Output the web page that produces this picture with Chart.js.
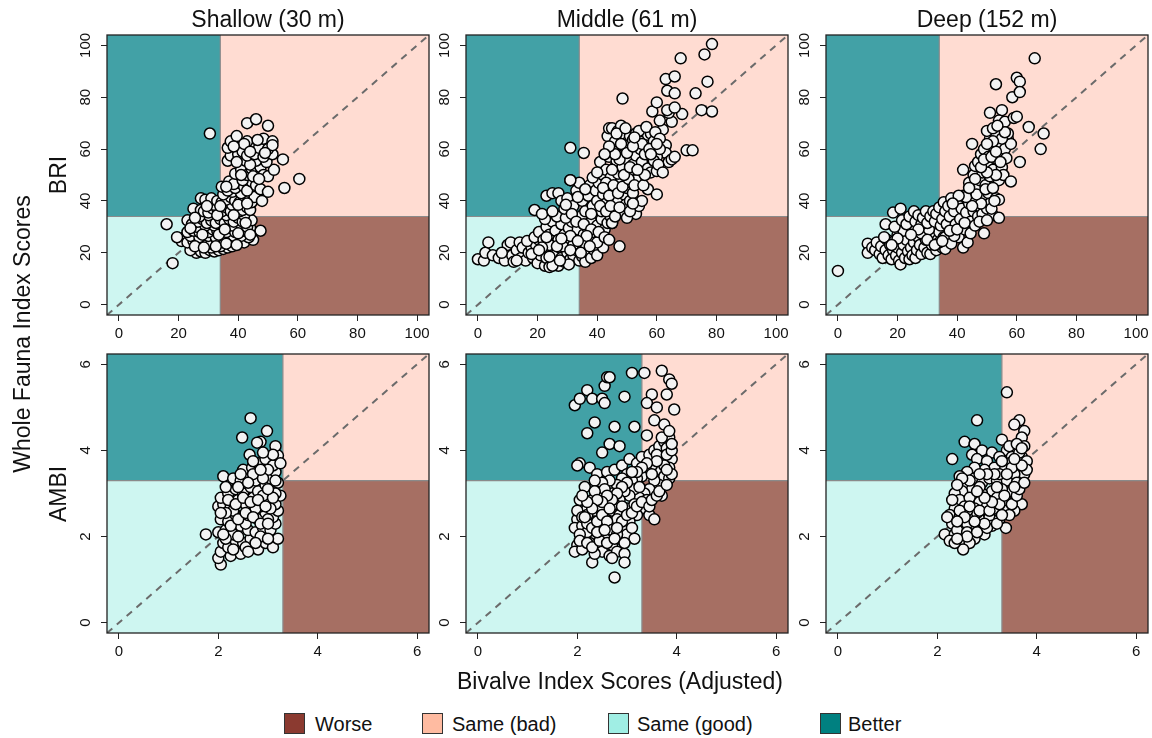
<!DOCTYPE html>
<html>
<head>
<meta charset="utf-8">
<script src="https://cdn.jsdelivr.net/npm/chart.js@4/dist/chart.umd.min.js"></script>
<style>
  body { margin:0; background:#fff; width:1152px; height:738px; position:relative; overflow:hidden;
         font-family:"Liberation Sans", Arial, sans-serif; color:#111; }
  .panel { position:absolute; }
  .txt { position:absolute; white-space:nowrap; transform:translate(-50%,-50%); line-height:1; }
  .rot { transform:translate(-50%,-50%) rotate(-90deg); }
  .lg-box { position:absolute; width:21px; height:21px; border:1px solid #333; box-sizing:border-box; }
  .lg-txt { position:absolute; white-space:nowrap; font-size:20px; line-height:1; transform:translateY(-50%); }
</style>
</head>
<body>
<script>
// ---- category / axis text ----
const depthTitles = ['Shallow (30 m)', 'Middle (61 m)', 'Deep (152 m)'];
const indexNames = ['BRI', 'AMBI'];
const legendLabels = ['Worse', 'Same (bad)', 'Same (good)', 'Better'];
const briTicks = [0, 20, 40, 60, 80, 100];
const ambiTicks = [0, 2, 4, 6];
const briRange = [-4, 104];
const ambiRange = [-0.24, 6.24];
const briCut = 34;
const ambiCut = 3.3;

// ---- bivalve index (x) vs whole fauna index (y) ----
const shallowBRI = [
  [26,20],[27.5,20.5],[29,20],[30.5,21],[32,20.5],[33.5,21],[35,21.5],[36.5,22],[38,22.5],[24,21],[31,22],[34,22.5],
  [22,26],[21,24.5],[19.5,26],[23,24],[25,24.5],[26.5,23.5],[28,24],[29.5,25],[31,23.5],[33,24.5],[35,24],[37,25],
  [39,24],[40.5,25],[42,24],[45,25],[43.5,26],[24,26.5],[27,26],[30,26.5],[32.5,26],[36,26.5],[38.5,26.5],[41,26.5],
  [23,28],[25,28.5],[27,28],[28.5,29.5],[30,28],[31.5,29],[33,28.5],[34.5,30],[36,28],[37.5,29.5],[39,28],[40.5,29.5],
  [42,28.5],[44,29.5],[47.5,28.5],[26,30],[29,30.5],[32,30.5],[38,30.5],[41,31],[43,30],
  [16,31],[23,32.5],[24.5,31],[26.5,32],[28,33],[29.5,31.5],[31,32.5],[32.5,31.5],[34,33],[35.5,31.5],[37,33],
  [38.5,32],[40,33.5],[41.5,32],[43,33],[44.5,32.5],[30,34.5],[27,34],[36,34.5],[42,34.5],
  [25,37],[27.5,36.5],[28.5,36],[30,35.5],[31.5,37],[33,37],[34.5,36],[36,37.5],[37.5,36],[39,37.5],[40.5,36],
  [41.5,36.5],[43,37.5],[44,36.5],[32,38.5],[38,38.5],
  [27.5,41],[29,40.5],[31,41],[33,40],[34.5,39.5],[36,40.5],[37.5,41.5],[39,40],[40.5,39.5],[42,41],[43.5,40],
  [44.5,39.5],[45.5,41.5],[48,40],[35,42.5],[38,43.5],[41,43],
  [34.5,45.5],[36.5,44],[37,47.5],[39,45],[40,47],[42,45.5],[43,44],[44.5,47.5],[46,46],[47.5,44.5],[50,43.5],
  [38.5,46.5],[41.5,48],
  [39,50.5],[41,52],[43,50],[44.5,52.5],[46,51],[47.5,53],[48.5,50],[50,49.5],[52,52],[42.5,55.5],[46,55.5],
  [49.5,55],[36.5,55.5],[44,54],
  [37.5,57.5],[40,58],[41.5,59],[43,57.5],[44.5,61],[45.5,58],[47,60.5],[48.5,57],[51.5,58],[50,60],[36.5,60.5],
  [55,56],[55.5,45],[60.5,48.5],
  [30.5,66],[37.5,63],[39.5,65],[43,63],[48.5,64],[51.5,63],[51.5,61.5],[43,70],[46,71.5],[50,69],[42,62],
  [18,16],
  [25.5,22.5],[28.5,22],[32.5,22.5],[36,23.5],[39.5,23],[33.5,27],[28,27],[40,27.5],[44,27],[24,29.5],[35.5,29],
  [42.5,31.5],[25.5,33.5],[33,34.5],[38.5,34.5],[29.5,38],[34,38],[40,38.5],[43,39],[36,45.5],[41,50],[45,49.5],
  [47,48.5],[39.5,55],[44,59],[49,58.5],[46.5,63.5],[38.5,61]
];

const middleBRI = [
  [0,17.5],[2,17],[2.5,20],[3.5,24],[5,19],[7,18],[9,17],[10,23],[11,24],[11.5,19],[12,16.5],[13,21],[14,24],
  [14.5,18],[15,22],[16,17],[17,20],[18,22],[18.5,18],[19.5,23],[20,16],[21,19],[22,22],[22.5,15],[23,18],
  [24,14.5],[24.5,21],[25.5,16],[26,19],[27,15],[27.5,22],[28,18],[29,16.5],[30,20],[31,17.5],[32,19],[33,21],
  [34,17],[35,18.5],[36,16.5],[37,20],[38,18],[39,21],[40,19],[42,22],[47.5,22.5],[20.5,25],[16.5,24.5],[13,17],
  [8,20],[25,15],[30.5,15.5],
  [19,26],[20.5,28],[22,25],[23,30],[24,27],[25,32],[26,28.5],[27,25],[28,31],[29,27],[30,24],[30.5,29.5],
  [31.5,32],[32.5,26],[33.5,29],[34.5,33],[35.5,27],[36.5,30],[37.5,25],[38,32],[39,28],[40,30.5],[41,26],
  [41.5,33],[42.5,29],[43.5,31.5],[44.5,34],[45,31.5],[22.5,33],[26.5,34],[24,23],[28.5,22.5],[32,23],[36,23.5],
  [40,24],[21.5,22],[29.5,33.5],[35,34.5],[19,36.5],[21.5,35],[25,36],[23,42],
  [25,43],[27,43],[28,40],[29,37],[30,41],[31,48],[32,38],[33,44],[34,47],[35,40],[36,36],[37,42],[37.5,46],
  [38.5,38],[39.5,44],[40,40],[40.5,47],[41.5,36],[42,42.5],[43,39],[43.5,45],[44,48],[45,41],[46,37],[46.5,44],
  [47,40],[47.5,47.5],[48.5,36],[49,42.5],[49.5,38.5],[50,45],[51,40],[52,43],[53,35],[50,33.5],[45,31.5],
  [54,38],[55,40],[51.5,47],[48,49],[38,35],[31.5,35],
  [41,55],[42,50],[43,52],[44,57],[44.5,49],[45,60],[46,53],[46.5,55.5],[47,50.5],[48,58],[48.5,53],[49,61],
  [50,56],[50.5,51],[51,59],[52,54],[52.5,62],[53,57.5],[54,51],[54.5,60],[55,55],[56,58],[57,52.5],[58,51],
  [60,51.5],[57,44.5],[60,42.5],[31,60.5],[35.5,58.5],[31,48],[43,47],[53,48],
  [43.5,65],[44,68],[45,68],[46,63],[47,67],[48,69],[48.5,64],[49,66],[50,62.5],[51,65],[52,63.5],[53,66],
  [54,64],[55,67],[56,62],[57,65.5],[58,66],[59,63],[62,67.5],[63,61.5],[63,58.5],[64,55],[65,56],[66,57],
  [70,59.5],[72,59.5],[60,57],[61,60],
  [65,70.5],[64,74],[58.5,74.5],[60,78],[63.5,75],[68.5,73.5],[75,75],[78.5,74.5],[63.5,82.5],[66,81.5],
  [73,81.5],[63,87],[66,88],[77,86],[68,95],[76,96.5],[78.5,100.5],[48.5,79.5],[61,71],[66,76],
  [42,45],[44,42],[45.5,46],[47,43],[48.5,45.5],[50.5,48.5],[52.5,46],[55.5,46],[56,50],[41,38],[43,36],[44.5,38],
  [46,34],[47.5,37.5],[51,36],[52,39],[49,50],[45,52],[47.5,56],[51,53],[53.5,52],[55,62],[57.5,60],[59,55.5],
  [50,58.5],[46,58],[44,61],[48,62],[52,61],[54,67],[56.5,68.5],[59.5,66.5],[61,64],[58,58],[60.5,54],[62,51],
  [33,32],[35.5,31],[38,29],[40.5,28],[42.5,26],[44,25],[36.5,26.5],[31,26.5],[26.5,22.5],[23,26],[28,25.5],
  [33.5,24.5],[18,19.5],[20.5,21],[24,18.5],[27.5,17],[31,21],[34.5,20],[37.5,22.5],[29.5,38.5],[33.5,41.5],
  [36,44.5],[38.5,49],[40,51],[42.5,58],[46.5,66],[49.5,68],[52.5,64.5],[60,62]
];

const deepBRI = [
  [0,13],
  [10,23.5],[10,20],[11.5,22],[12.5,21],[13,24],[14,19.5],[14.5,22.5],[15,18],[16,21],[16.5,25],[17,19],
  [17.5,23],[18,17.5],[18.5,21],[19,24.5],[19.5,19],[20,22],[20.5,17],[21,15.5],[21.5,20],[22,23],[22.5,18],
  [23,25],[23.5,20.5],[24,17.5],[24.5,22],[25,19],[25.5,24],[26,18],[26.5,21],[27,26],[27.5,23],[28,19.5],
  [29,22],[29.5,25],[30,20],[31,19.5],[31.5,23],[32,27],[33,21],[33.5,25],[34,28],[35,22],[35.5,26],[36,21.5],
  [15.5,26],[20,27],[22,28.5],[25,29],[28,27.5],[30.5,29],
  [18.5,35.5],[21,37],[16,31],[19,30],[21.5,32.5],[23,31],[24,34],[25.5,36],[26,32],[27,34.5],[28,31],
  [28.5,33.5],[29.5,36],[30,31.5],[31,34],[32,36],[32.5,32],[33,35],[34,37.5],[34.5,30.5],[35,33],[35.5,39.5],
  [36,36],[36.5,31],[37,38],[37.5,34],[38,41],[38.5,28],[39,36],[39.5,31],[40,39],[40.5,26],[41,33],[41.5,37],
  [42,42],[42,22],[42.5,29],[43,35.5],[43.5,24],[44,39],[44.5,32],[45,43],[45.5,36],[46,40],[47,34],[47.5,38],
  [48,44],[48.5,35],[49,41],[49,27.5],[50,37],[50.5,43],[51,39],[52,34.5],[53,41],[54,40.5],[54,33.5],
  [36,26],[38,23.5],[39,26.5],[34,24],
  [42,52],[44,47],[45,62],[45.5,50],[46,53.5],[46.5,45.5],[47,55],[47.5,48],[48,58],[48.5,51],[49,60],
  [49.5,46],[50,54],[50.5,57],[51,49.5],[51,64],[52,52],[52.5,60],[53,66],[53.5,56],[54,48],[54,62.5],[55,58],
  [55,53],[55.5,50],[56,60],[56.5,56.5],[57,64],[58,47.5],[58,62],[61,55],[50,67],[52,68],[51,74],[55,75],
  [54,71],[56,70.5],[59,72],[60,72.5],[58.5,80],[53,85],[60,87.5],[61,86],[61,82],[64,68.5],[69,66],[68,60],
  [66,95],[57,66],
  [30,25],[32.5,23],[35,24.5],[37.5,28.5],[40,29],[42.5,31.5],[44.5,27.5],[46,30.5],[47.5,32],[50,32.5],
  [51.5,37],[52.5,40],[48,39],[45,38],[43,41.5],[40.5,42],[38.5,39],[46.5,42.5],[49.5,44.5],[52,45],[53,50],
  [50,51],[48,53],[46,48.5],[44,45],[49,56],[51.5,57],[54.5,55],[53,59],[55,64],[52,63],[50,62],[56,66.5],
  [53.5,69],[27,29],[24.5,27],[20,25.5],[18,23]
];

const shallowAMBI = [
  [1.75,2.05],[2.05,1.35],[2.0,1.5],[2.05,1.65],[2.1,1.85],[2.25,1.55],[2.45,1.6],[2.2,1.75],[2.35,1.9],
  [2.5,1.85],[2.65,1.95],[2.8,1.7],[2.95,1.85],[3.1,1.75],[3.2,1.95],[2.0,2.1],[2.15,2.15],[2.3,2.05],
  [2.45,2.25],[2.6,2.15],[2.75,2.1],[2.9,2.2],[3.05,2.15],[3.15,2.3],[2.05,2.4],[2.2,2.35],[2.35,2.5],
  [2.5,2.45],[2.65,2.6],[2.8,2.4],[2.95,2.55],[3.1,2.45],[3.2,2.6],[2.0,2.7],[2.1,2.75],[2.25,2.7],[2.4,2.85],
  [2.55,2.75],[2.7,2.9],[2.85,2.7],[3.0,2.85],[3.15,2.75],[3.25,2.95],[2.05,2.9],[2.2,3.0],[2.35,3.1],
  [2.5,3.0],[2.65,3.15],[2.8,3.05],[2.95,3.2],[3.1,3.1],[3.2,3.25],[2.1,3.4],[2.3,3.35],[2.45,3.3],[2.6,3.4],
  [2.75,3.3],[2.9,3.45],[3.05,3.35],[3.15,3.5],[2.5,3.55],[2.68,3.6],[2.8,3.7],[2.95,3.8],[3.1,3.65],
  [3.2,3.88],[2.63,3.9],[2.85,4.2],[2.78,4.18],[3.15,4.1],[2.48,4.3],[2.98,4.45],[2.65,4.75],[2.15,1.95],
  [2.4,2.0],[2.55,2.3],[2.85,2.0],[3.0,2.4],[2.3,2.6],[2.6,2.5],[2.9,2.95],[3.15,3.0],[2.4,3.15],[2.7,3.45],
  [3.0,3.55],[2.55,1.75],[2.15,2.55],[2.75,2.65],[3.05,2.65],[2.9,3.35],[3.1,3.9],
  [2.1,2.05],[2.25,2.25],[2.4,2.4],[2.55,2.55],[2.7,2.45],[2.85,2.3],[3.0,2.3],[2.2,2.85],[2.35,2.75],[2.5,2.9],
  [2.65,2.8],[2.8,2.85],[2.95,2.7],[3.1,2.9],[2.45,3.45],[2.6,3.25],[2.85,3.55],[3.0,3.1],[3.15,3.3],[3.25,3.7],
  [2.7,3.75],[2.9,3.95],[2.3,1.7],[2.6,1.65],[2.75,1.85],[3.0,1.95],[2.05,2.55],[2.15,3.15]
];

const middleAMBI = [
  [1.95,5.05],[2.05,5.2],[2.2,5.4],[2.3,5.2],[2.5,5.2],[2.55,5.5],[2.6,5.7],[2.55,5.1],[2.65,5.7],[2.95,5.25],
  [3.1,5.8],[3.35,5.8],[3.5,5.3],[3.4,5.1],[3.6,5.0],[3.8,5.3],[3.7,5.85],[3.85,5.65],[3.9,5.55],[3.95,4.95],
  [2.35,4.65],[2.2,4.4],[2.75,4.55],[3.15,4.55],[3.55,4.7],[3.75,4.6],[3.4,4.35],[2.65,4.15],[2.85,4.1],
  [2.5,3.95],
  [2.05,3.7],[2.0,3.65],[2.25,3.6],[2.4,3.45],[2.6,3.5],[2.75,3.55],[2.9,3.65],[3.05,3.8],[3.2,3.7],[3.3,3.85],
  [3.45,3.9],[3.55,4.0],[3.65,4.1],[3.75,4.2],[3.85,4.3],[3.8,4.05],[3.9,3.8],[3.85,3.6],[3.7,3.75],[3.6,3.55],
  [3.5,3.65],[3.4,3.5],[3.3,3.4],[3.2,3.35],[3.1,3.3],[3.0,3.45],[2.9,3.35],[2.8,3.2],[2.65,3.3],[2.5,3.25],
  [2.35,3.3],[2.15,3.15],[2.05,2.85],[3.75,3.4],[3.85,3.35],[3.65,3.2],[3.55,3.3],[3.45,3.1],[3.35,3.0],
  [3.25,2.9],[3.15,3.1],[3.05,2.95],[2.95,3.05],[2.85,2.85],[2.7,3.0],[2.6,2.8],[2.45,3.0],[2.3,2.85],
  [2.2,2.65],[2.0,2.4],[1.95,2.2],[2.1,2.25],[2.25,2.4],[2.4,2.55],[2.55,2.45],[2.7,2.6],[2.85,2.5],[3.0,2.65],
  [3.15,2.75],[3.3,2.65],[3.45,2.5],[3.55,2.4],[3.7,2.95],[3.4,2.85],[3.2,2.5],[3.05,2.35],[2.9,2.2],[2.75,2.3],
  [2.6,2.1],[2.45,2.2],[2.3,2.05],[2.15,1.95],[2.0,1.8],[1.95,1.65],[2.1,1.7],[2.25,1.85],[2.4,1.75],
  [2.55,1.95],[2.7,1.8],[2.85,1.95],[3.0,2.05],[3.15,1.95],[2.5,1.65],[2.65,1.55],[2.8,1.65],[2.95,1.6],
  [2.3,1.4],[2.75,1.05],[2.95,1.4],[2.7,1.5],[2.35,2.35],[2.5,2.35],[2.65,2.25],[2.8,2.4],[2.2,2.1],[2.05,2.05],
  [2.35,1.6],[2.45,2.7],[2.75,2.75],[2.9,2.7],[3.1,2.2],[2.2,2.5],[2.55,3.1],[2.35,3.05],[3.25,3.15],[3.6,3.9],
  [3.8,3.9],[3.75,3.65],
  [2.0,2.6],[2.1,2.45],[2.2,2.3],[2.3,2.2],[2.4,2.35],[2.5,2.5],[2.6,2.35],[2.7,2.15],[2.8,2.05],[2.9,2.35],
  [3.0,2.5],[3.1,2.55],[3.2,2.7],[3.3,2.8],[3.45,2.7],[3.5,2.85],[3.6,2.95],[3.65,3.05],[3.8,3.2],[3.9,3.45],
  [3.9,4.0],[3.8,3.55],[3.6,3.75],[3.5,3.45],[3.4,3.7],[3.3,3.6],[3.2,3.5],[3.1,3.5],[3.0,3.25],[2.9,3.15],
  [2.8,3.0],[2.7,2.85],[2.6,2.95],[2.5,2.8],[2.4,2.85],[2.3,2.65],[2.2,2.8],[2.1,2.95],[2.05,1.9],[2.2,1.85],
  [2.3,1.75],[2.45,1.9],[2.6,1.85],[2.75,1.95],[2.8,2.2],[2.95,1.85],[2.4,2.1],[2.55,2.15],[2.65,2.65],
  [2.15,2.45],[3.7,4.3],[3.85,4.45],[3.9,4.15]
];

const deepAMBI = [
  [3.4,5.35],[2.8,4.7],[3.65,4.7],[3.55,4.6],[3.75,4.45],[3.7,4.3],[3.75,4.1],[3.6,4.0],[3.4,4.0],[3.3,4.25],
  [2.55,4.2],[2.75,4.15],[2.3,3.8],[2.7,3.9],[2.9,4.0],[3.1,3.95],[3.25,3.85],[3.5,3.85],[3.7,3.85],[3.8,3.75],
  [2.8,3.8],[3.0,3.75],[3.45,3.7],[3.65,3.6],[3.75,3.45],[3.55,3.45],[3.35,3.55],[3.15,3.6],[2.95,3.55],
  [2.75,3.6],[2.6,3.5],[2.45,3.4],[2.55,3.2],[2.75,3.35],[2.9,3.25],[3.05,3.35],[3.2,3.3],[3.4,3.3],[3.6,3.25],
  [3.5,3.05],[3.3,3.1],[3.1,3.05],[2.9,3.0],[2.7,3.1],[2.5,3.05],[2.35,3.0],[2.45,2.85],[2.65,2.9],[2.85,2.8],
  [3.0,2.85],[3.2,2.9],[3.4,2.8],[3.7,2.75],[3.55,2.6],[3.35,2.6],[3.15,2.65],[2.95,2.6],[2.75,2.65],
  [2.55,2.7],[2.35,2.65],[2.25,2.5],[2.45,2.45],[2.65,2.45],[2.85,2.4],[3.05,2.45],[3.25,2.4],[3.45,2.5],
  [3.38,2.2],[3.1,2.25],[2.9,2.15],[2.7,2.2],[2.5,2.2],[2.3,2.3],[2.2,2.45],[2.15,2.05],[2.35,2.05],[2.55,2.0],
  [2.75,1.95],[2.95,2.05],[2.25,1.9],[2.45,1.85],[2.65,1.85],[2.52,1.7],[2.35,1.85],[2.6,2.3],[2.8,2.55],
  [3.0,2.7],[3.2,3.15],[3.5,3.6],[3.65,3.95],[3.25,3.45],[2.85,3.15],[2.6,2.6],[3.45,4.1],
  [2.4,2.15],[2.6,2.1],[2.8,2.1],[3.0,2.2],[3.2,2.3],[3.3,2.5],[3.5,2.75],[3.6,2.95],[3.65,3.1],[3.75,3.25],
  [3.8,3.55],[3.7,3.65],[3.55,3.8],[3.6,4.15],[3.7,4.05],[3.4,3.45],[3.3,3.75],[3.15,3.45],[3.0,3.45],
  [2.85,3.45],[2.65,3.3],[2.5,3.35],[2.4,3.2],[2.3,2.85],[2.45,2.6],[2.65,2.7],[2.85,2.6],[3.05,2.6],
  [3.25,2.75],[2.95,2.3],[2.75,2.35],[2.55,2.45],[2.4,2.35],[3.1,2.8],[2.95,2.9],[2.8,3.05],[3.35,2.95],
  [3.55,3.15],[2.6,2.0],[2.4,1.95]
];

// ---- colours ----
const quadColors = { worse:'#a66f63', sameBad:'#ffdcd2', sameGood:'#cef6f1', better:'#42a1a6' };
const legendColors = ['#8b3a30', '#ffbba1', '#a0eee4', '#008080'];
const FONT = '"Liberation Sans", Arial, sans-serif';

// ---- page layout of the six plotting boxes ----
const colLeft = [107, 466, 826];
const boxW = 322;
const rowTop = [35, 354];
const boxH = [280, 279];
const PAD_L = 50, PAD_T = 10, PAD_R = 10, PAD_B = 40;

// quadrant shading, threshold lines and the frame
const quadrantPlugin = {
  id: 'quadrants',
  beforeDatasetsDraw(chart, args, opts) {
    const { ctx, chartArea: a, scales: { x, y } } = chart;
    const cx = x.getPixelForValue(opts.cut), cy = y.getPixelForValue(opts.cut);
    ctx.save();
    ctx.fillStyle = quadColors.better;   ctx.fillRect(a.left, a.top, cx - a.left, cy - a.top);
    ctx.fillStyle = quadColors.sameBad;  ctx.fillRect(cx, a.top, a.right - cx, cy - a.top);
    ctx.fillStyle = quadColors.sameGood; ctx.fillRect(a.left, cy, cx - a.left, a.bottom - cy);
    ctx.fillStyle = quadColors.worse;    ctx.fillRect(cx, cy, a.right - cx, a.bottom - cy);
    ctx.strokeStyle = '#8a8a8a'; ctx.lineWidth = 1.2;
    ctx.beginPath();
    ctx.moveTo(cx, a.top); ctx.lineTo(cx, a.bottom);
    ctx.moveTo(a.left, cy); ctx.lineTo(a.right, cy);
    ctx.stroke();
    ctx.restore();
  },
  afterDraw(chart) {
    const { ctx, chartArea: a, scales: { y } } = chart;
    ctx.save();
    ctx.strokeStyle = '#222'; ctx.lineWidth = 1.3;
    ctx.strokeRect(a.left, a.top, a.right - a.left, a.bottom - a.top);
    // y tick labels, written parallel to the axis
    ctx.fillStyle = '#111';
    ctx.font = '15px ' + FONT;
    ctx.textAlign = 'center'; ctx.textBaseline = 'middle';
    y.ticks.forEach(t => {
      ctx.save();
      ctx.translate(a.left - 21, y.getPixelForValue(t.value));
      ctx.rotate(-Math.PI / 2);
      ctx.fillText(String(t.value), 0, 0);
      ctx.restore();
    });
    ctx.restore();
  }
};

function makePanel(row, col, points) {
  const isBRI = row === 0;
  const range = isBRI ? briRange : ambiRange;
  const ticks = isBRI ? briTicks : ambiTicks;
  const cut = isBRI ? briCut : ambiCut;
  const W = boxW + PAD_L + PAD_R, H = boxH[row] + PAD_T + PAD_B;
  const div = document.createElement('div');
  div.className = 'panel';
  div.style.left = (colLeft[col] - PAD_L) + 'px';
  div.style.top = (rowTop[row] - PAD_T) + 'px';
  div.style.width = W + 'px';
  div.style.height = H + 'px';
  const cv = document.createElement('canvas');
  cv.width = W; cv.height = H;
  div.appendChild(cv);
  document.body.appendChild(div);

  const setTicks = s => { s.ticks = ticks.map(v => ({ value: v })); };
  const gridOpts = { drawOnChartArea: false, drawTicks: true, tickLength: 6, color: '#222', lineWidth: 1 };

  new Chart(cv, {
    type: 'scatter',
    data: {
      datasets: [
        {
          type: 'line',
          data: [{ x: range[0], y: range[0] }, { x: range[1], y: range[1] }],
          borderColor: '#6b6b6b', borderWidth: 2, borderDash: [7, 6],
          pointRadius: 0, fill: false, order: 2
        },
        {
          data: points.map(p => ({ x: p[0], y: p[1] })),
          backgroundColor: '#f3f3f3', borderColor: '#000', borderWidth: 1.5,
          pointRadius: 5.5, pointHoverRadius: 5.5, order: 1
        }
      ]
    },
    options: {
      responsive: false, animation: false, devicePixelRatio: 1,
      layout: { padding: { left: 0, top: PAD_T, right: PAD_R, bottom: 0 } },
      plugins: { legend: { display: false }, tooltip: { enabled: false }, quadrants: { cut } },
      events: [],
      scales: {
        x: {
          type: 'linear', min: range[0], max: range[1],
          afterBuildTicks: setTicks,
          afterFit: s => { s.height = PAD_B; },
          grid: gridOpts, border: { display: false },
          ticks: { color: '#111', font: { size: 15, family: FONT }, padding: 4, maxRotation: 0, autoSkip: false,
                   callback: v => String(v) }
        },
        y: {
          type: 'linear', min: range[0], max: range[1],
          afterBuildTicks: setTicks,
          afterFit: s => { s.width = PAD_L; },
          grid: gridOpts, border: { display: false },
          ticks: { display: false }
        }
      }
    },
    plugins: [quadrantPlugin]
  });
}

const panelData = [[shallowBRI, middleBRI, deepBRI], [shallowAMBI, middleAMBI, deepAMBI]];
panelData.forEach((rowSets, r) => rowSets.forEach((pts, c) => makePanel(r, c, pts)));

// ---- titles, axis names and legend as page text ----
function addText(str, x, y, size, rotated) {
  const d = document.createElement('div');
  d.className = 'txt' + (rotated ? ' rot' : '');
  d.style.left = x + 'px'; d.style.top = y + 'px'; d.style.fontSize = size + 'px';
  d.textContent = str;
  document.body.appendChild(d);
}
depthTitles.forEach((t, i) => addText(t, colLeft[i] + boxW / 2, 19, 23, false));
indexNames.forEach((t, i) => addText(t, 58, rowTop[i] + boxH[i] / 2, 23, true));
addText('Whole Fauna Index Scores', 22, 334, 23, true);
addText('Bivalve Index Scores (Adjusted)', 620, 681, 23, false);

const legendBoxX = [284, 422, 608, 820];
const legendTextX = [315, 452, 637, 848];
legendLabels.forEach((lab, i) => {
  const b = document.createElement('div');
  b.className = 'lg-box';
  b.style.left = legendBoxX[i] + 'px'; b.style.top = '713px'; b.style.background = legendColors[i];
  document.body.appendChild(b);
  const t = document.createElement('div');
  t.className = 'lg-txt';
  t.style.left = legendTextX[i] + 'px'; t.style.top = '724px';
  t.textContent = lab;
  document.body.appendChild(t);
});
</script>
</body>
</html>
